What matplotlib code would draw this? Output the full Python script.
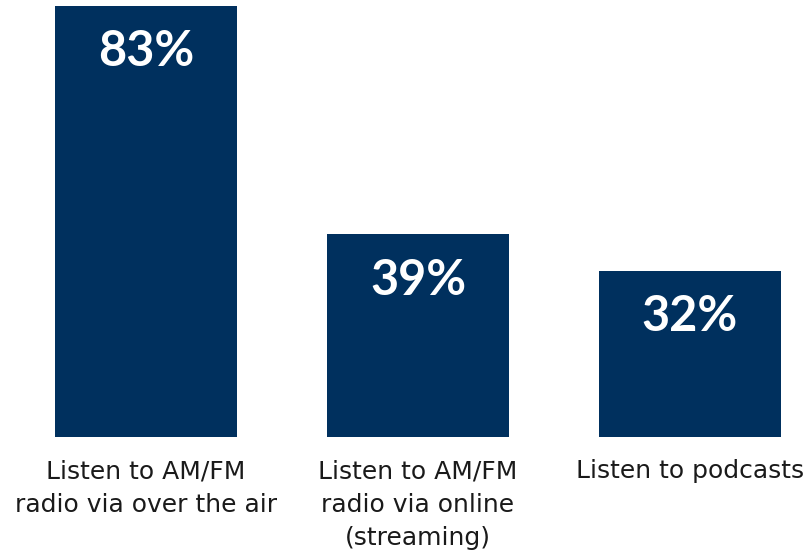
import matplotlib
matplotlib.use("Agg")
import matplotlib.pyplot as plt

categories = [
    "Listen to AM/FM\nradio via over the air",
    "Listen to AM/FM\nradio via online\n(streaming)",
    "Listen to podcasts",
]
values = [83, 39, 32]

bar_color = "#00305E"
plt.rcParams["font.family"] = ["DejaVu Sans"]

fig = plt.figure(figsize=(8.08, 5.53), dpi=100)
ax = fig.add_axes([0.0, 0.2098, 1.0, 0.7794])

x = list(range(len(values)))
ax.bar(x, values, width=0.67, color=bar_color)

for xi, v in zip(x, values):
    ax.annotate(f"{v}%", xy=(xi, v), xytext=(0, -33), textcoords="offset points",
                ha="center", va="center", color="white", fontsize=35,
                fontweight="bold", family=["Lato", "DejaVu Sans"])

ax.set_xlim(-146 / 272, (808 - 146) / 272)
ax.set_ylim(0, 83)
ax.set_xticks(x)
ax.set_xticklabels(categories, fontsize=18, color="#1a1a1a", linespacing=1.5)
ax.tick_params(axis="x", length=0, pad=16)
ax.set_yticks([])
for s in ax.spines.values():
    s.set_visible(False)

fig.savefig("out.png", dpi=100)
